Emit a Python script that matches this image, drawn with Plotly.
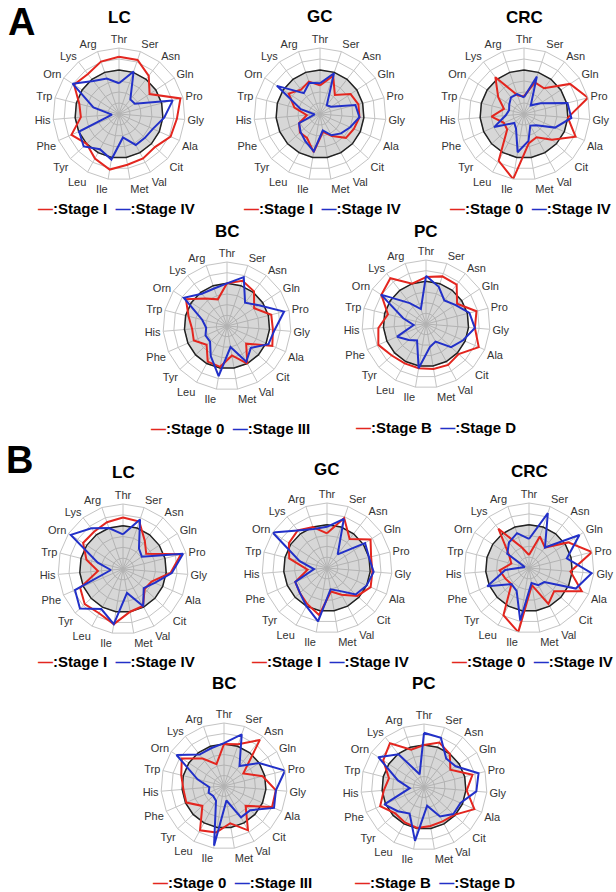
import plotly.graph_objects as go

categories = ["Thr", "Ser", "Asn", "Gln", "Pro", "Gly", "Ala", "Cit", "Val", "Met",
              "Ile", "Leu", "Tyr", "Phe", "His", "Trp", "Orn", "Lys", "Arg"]
control = [1.0] * 19

# Panel A
A_LC_stageI  = [1.30, 1.30, 1.10, 0.83, 1.44, 1.32, 1.28, 1.11, 1.15, 1.17, 1.28, 1.15, 1.00, 1.18, 0.87, 0.93, 1.22, 1.15, 1.26]
A_LC_stageIV = [0.70, 1.02, 0.42, 0.43, 1.26, 1.03, 0.84, 0.80, 0.80, 0.54, 1.05, 0.91, 1.09, 0.99, 0.16, 0.60, 1.26, 0.95, 0.85]
A_GC_stageI  = [0.65, 0.92, 0.55, 0.83, 0.90, 0.90, 0.84, 0.80, 0.57, 0.41, 0.88, 0.62, 0.62, 0.52, 0.30, 0.60, 0.85, 0.70, 0.78]
A_GC_stageIV = [0.70, 0.98, 0.25, 0.30, 0.83, 0.90, 0.75, 0.65, 0.55, 0.38, 0.86, 0.70, 0.60, 0.52, 0.12, 0.45, 1.17, 0.60, 0.75]
A_CRC_stage0  = [0.40, 0.76, 0.74, 1.25, 1.50, 1.00, 1.28, 0.86, 0.60, 0.67, 1.50, 1.21, 0.52, 0.50, 0.74, 0.47, 0.70, 1.06, 0.45]
A_CRC_stageIV = [0.38, 0.90, 0.25, 0.45, 1.02, 1.08, 0.77, 0.38, 0.30, 0.62, 0.88, 0.38, 0.30, 0.74, 0.42, 0.35, 0.40, 0.48, 0.48]
A_BC_stage0   = [1.00, 1.12, 1.03, 0.76, 1.07, 1.08, 1.16, 0.61, 1.00, 0.70, 0.97, 0.95, 0.65, 0.85, 0.82, 0.93, 1.15, 0.82, 0.66]
A_BC_stageIII = [1.00, 1.21, 0.69, 0.89, 1.38, 1.12, 1.06, 0.76, 0.95, 0.50, 1.19, 0.80, 0.54, 0.55, 0.49, 0.60, 1.21, 0.96, 0.93]
A_PC_stageB = [1.10, 1.18, 1.17, 0.87, 1.22, 1.15, 1.35, 1.04, 1.09, 1.07, 1.05, 1.05, 1.09, 1.22, 1.12, 0.92, 1.25, 1.36, 1.00]
A_PC_stageD = [1.13, 0.92, 0.70, 0.82, 1.05, 1.15, 0.95, 0.80, 0.47, 0.55, 1.05, 0.44, 0.55, 0.74, 0.29, 0.55, 1.26, 0.62, 0.37]

# Panel B
B_LC_stageI  = [1.19, 1.16, 0.82, 0.64, 1.38, 1.10, 0.72, 0.68, 0.97, 1.00, 1.29, 1.16, 1.20, 1.08, 0.58, 0.87, 1.10, 1.09, 1.14]
B_LC_stageIV = [0.80, 1.21, 0.60, 0.52, 1.43, 1.13, 0.80, 0.65, 0.98, 0.56, 1.29, 1.05, 1.35, 1.21, 0.28, 0.60, 1.44, 1.19, 1.00]
B_GC_stageI  = [0.80, 1.22, 0.85, 1.20, 1.05, 1.05, 1.10, 0.95, 0.70, 0.55, 1.10, 0.95, 0.85, 0.80, 0.45, 0.90, 1.05, 1.10, 1.00]
B_GC_stageIV = [0.95, 1.20, 0.40, 1.05, 1.00, 1.08, 1.00, 0.90, 0.60, 0.50, 1.25, 1.00, 0.85, 0.80, 0.30, 0.65, 1.50, 1.10, 0.95]
B_CRC_stage0  = [0.30, 0.77, 0.60, 1.08, 1.50, 0.96, 1.33, 0.79, 0.94, 0.40, 1.50, 1.24, 0.55, 0.60, 0.68, 0.42, 0.55, 1.15, 0.50]
B_CRC_stageIV = [0.67, 1.34, 0.60, 1.39, 0.90, 1.45, 1.18, 0.48, 0.45, 0.35, 1.23, 0.60, 0.55, 1.05, 0.55, 0.10, 0.60, 0.75, 0.85]
B_BC_stage0   = [1.00, 1.05, 1.39, 0.55, 0.95, 1.24, 1.25, 0.70, 1.20, 0.90, 1.12, 1.20, 0.70, 0.98, 0.97, 1.05, 1.20, 0.83, 0.55]
B_BC_stageIII = [1.02, 1.30, 0.60, 1.00, 1.50, 1.24, 1.30, 0.85, 0.85, 0.35, 1.44, 0.40, 0.35, 0.40, 0.35, 0.65, 1.35, 0.95, 0.95]
B_PC_stageB = [1.00, 1.12, 1.00, 0.75, 1.19, 1.02, 1.31, 0.98, 0.93, 0.94, 0.99, 0.96, 0.93, 1.14, 0.96, 0.86, 1.16, 1.32, 0.94]
B_PC_stageD = [1.29, 1.24, 0.86, 0.90, 1.34, 1.25, 0.95, 0.95, 0.80, 0.45, 1.30, 0.72, 0.85, 1.03, 0.34, 0.64, 1.30, 0.99, 0.32]

RED = "#e3261f"
BLUE = "#2230c8"
W, H = 616, 892
FONT = "Liberation Sans, Arial, sans-serif"

# (title, red series, blue series, red label, blue label, center x, center y, radius, title y, legend y, legend x)
charts = [
    ("LC", A_LC_stageI, A_LC_stageIV, "Stage I", "Stage IV", 119, 114, 66, 17, 208, 116),
    ("GC", A_GC_stageI, A_GC_stageIV, "Stage I", "Stage IV", 320, 114, 66, 16, 208, 322),
    ("CRC", A_CRC_stage0, A_CRC_stageIV, "Stage 0", "Stage IV", 524, 114, 66, 17, 208, 530),
    ("BC", A_BC_stage0, A_BC_stageIII, "Stage 0", "Stage III", 227, 326, 64, 231, 428, 230),
    ("PC", A_PC_stageB, A_PC_stageD, "Stage B", "Stage D", 426, 324, 64, 231, 427, 436),
    ("LC", B_LC_stageI, B_LC_stageIV, "Stage I", "Stage IV", 123, 569, 65, 472, 661, 116),
    ("GC", B_GC_stageI, B_GC_stageIV, "Stage I", "Stage IV", 327, 568, 65, 470, 661, 330),
    ("CRC", B_CRC_stage0, B_CRC_stageIV, "Stage 0", "Stage IV", 529, 568, 65, 471, 661, 532),
    ("BC", B_BC_stage0, B_BC_stageIII, "Stage 0", "Stage III", 224, 786, 63, 683, 882, 232),
    ("PC", B_PC_stageB, B_PC_stageD, "Stage B", "Stage D", 424, 787, 63, 683, 882, 435),
]

fig = go.Figure()
closed_theta = categories + [categories[0]]
layout_updates = {}
annotations = []

for i, (title, red, blue, rlab, blab, cx, cy, R, ty, ly, lx) in enumerate(charts):
    pname = "polar" if i == 0 else f"polar{i+1}"
    sub = pname
    fig.add_trace(go.Scatterpolar(r=control + [control[0]], theta=closed_theta, mode="lines",
                                  fill="toself", fillcolor="rgba(150,150,150,0.38)",
                                  line=dict(color="#222222", width=1.5), subplot=sub,
                                  showlegend=False, hoverinfo="skip"))
    fig.add_trace(go.Scatterpolar(r=red + [red[0]], theta=closed_theta, mode="lines",
                                  line=dict(color=RED, width=2), subplot=sub, showlegend=False,
                                  name=rlab))
    fig.add_trace(go.Scatterpolar(r=blue + [blue[0]], theta=closed_theta, mode="lines",
                                  line=dict(color=BLUE, width=2), subplot=sub, showlegend=False,
                                  name=blab))
    layout_updates[pname] = dict(
        domain=dict(x=[(cx - R) / W, (cx + R) / W], y=[1 - (cy + R) / H, 1 - (cy - R) / H]),
        bgcolor="white",
        gridshape="linear",
        radialaxis=dict(range=[0, 1.5], dtick=0.25, tick0=0, showticklabels=False, ticks="",
                        showline=False, gridcolor="#c4c4c4", gridwidth=1),
        angularaxis=dict(direction="clockwise", rotation=90, categoryorder="array",
                         categoryarray=categories, ticks="", showline=True,
                         linecolor="#c4c4c4", linewidth=1, gridcolor="#c4c4c4",
                         tickfont=dict(family=FONT, size=11, color="#333333")),
    )
    annotations.append(dict(text=f"<b>{title}</b>", x=cx / W, y=1 - ty / H, xref="paper", yref="paper",
                            showarrow=False, xanchor="center", yanchor="middle",
                            font=dict(family=FONT, size=17, color="#000")))
    leg = (f"<b><span style='color:{RED}'>—</span>:{rlab}  "
           f"<span style='color:{BLUE}'>—</span>:{blab}</b>")
    annotations.append(dict(text=leg, x=lx / W, y=1 - ly / H, xref="paper", yref="paper",
                            showarrow=False, xanchor="center", yanchor="middle",
                            font=dict(family=FONT, size=15, color="#000")))

annotations.append(dict(text="<b>A</b>", x=21 / W, y=1 - 22 / H, xref="paper", yref="paper",
                        showarrow=False, xanchor="center", yanchor="middle",
                        font=dict(family=FONT, size=38, color="#000")))
annotations.append(dict(text="<b>B</b>", x=19 / W, y=1 - 460 / H, xref="paper", yref="paper",
                        showarrow=False, xanchor="center", yanchor="middle",
                        font=dict(family=FONT, size=38, color="#000")))

fig.update_layout(width=W, height=H, margin=dict(l=0, r=0, t=0, b=0),
                  paper_bgcolor="white", plot_bgcolor="white", showlegend=False,
                  annotations=annotations, **layout_updates)
fig.write_html("out.html", config={"displayModeBar": False},
               post_script="document.body.style.margin='0';document.body.style.overflow='hidden';")
